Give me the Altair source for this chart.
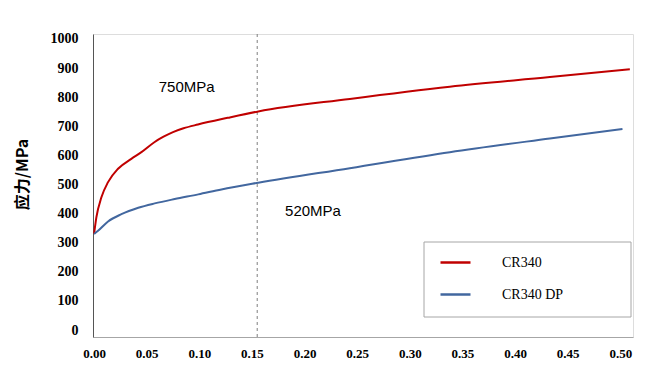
import altair as alt
import pandas as pd

# ---- data ----
red_x = [0.0, 0.0022, 0.007, 0.0133, 0.0228, 0.0354, 0.045, 0.0576, 0.066, 0.075, 0.085, 0.0987, 0.127, 0.156, 0.243, 0.338, 0.433, 0.509]
red_y = [330, 387, 456, 508, 554, 588, 611, 646, 664, 680, 693, 706, 729, 751, 794, 836, 869, 896]

blue_x = [0.0, 0.0038, 0.0133, 0.026, 0.042, 0.0576, 0.0766, 0.099, 0.121, 0.156, 0.243, 0.338, 0.433, 0.502]
blue_y = [330, 341, 373, 398, 420, 435, 450, 466, 483, 506, 556, 611, 658, 691]

series_names = ["CR340", "CR340 DP"]
series_colors = ["#c00000", "#42679f"]

x_ticks = [0.0, 0.05, 0.10, 0.15, 0.20, 0.25, 0.30, 0.35, 0.40, 0.45, 0.50]
y_ticks = [0, 100, 200, 300, 400, 500, 600, 700, 800, 900, 1000]

marker_x = [0.155]
ann_text = ["750MPa", "520MPa"]
ann_x = [0.088, 0.208]
ann_y = [834, 410]

# ---- tables ----
rows = []
for i, (x, y) in enumerate(zip(red_x, red_y)):
    rows.append({"strain": x, "stress": y, "series": series_names[0], "order": i})
for i, (x, y) in enumerate(zip(blue_x, blue_y)):
    rows.append({"strain": x, "stress": y, "series": series_names[1], "order": i})
df = pd.DataFrame(rows)
df_rule = pd.DataFrame({"strain": marker_x})
df_ann = pd.DataFrame({"strain": ann_x, "stress": ann_y, "label": ann_text})

xscale = alt.Scale(domain=[-0.001, 0.512], nice=False, zero=False)
yscale = alt.Scale(domain=[-24, 1017], nice=False, zero=False)

x_axis = alt.Axis(values=x_ticks, format=".2f", title=None, grid=False, ticks=False,
                  domainColor="#a6a6a6", domainWidth=1,
                  labelFont="Liberation Serif", labelFontWeight="bold", labelFontSize=13,
                  labelColor="#000000", labelPadding=10, labelFlush=False,
                  labelOverlap=False)
y_axis = alt.Axis(values=y_ticks, format="d", title="应力/MPa", grid=False, ticks=False,
                  domainColor="#555555", domainWidth=1,
                  labelFont="Liberation Serif", labelFontWeight="bold", labelFontSize=14,
                  labelColor="#000000", labelPadding=15, labelFlush=False,
                  labelOverlap=False,
                  titleFont="Noto Sans CJK SC", titleFontWeight="bold", titleFontSize=16,
                  titleColor="#000000", titleAngle=-90, titleX=-71, titleY=140,
                  titleAlign="center", titleBaseline="middle")

lines = alt.Chart(df).mark_line(strokeWidth=2, interpolate="monotone").encode(
    x=alt.X("strain:Q", scale=xscale, axis=x_axis),
    y=alt.Y("stress:Q", scale=yscale, axis=y_axis),
    color=alt.Color("series:N",
                    scale=alt.Scale(domain=series_names, range=series_colors),
                    legend=alt.Legend(title=None, orient="none", legendX=346, legendY=212,
                                      symbolType="stroke", symbolSize=900, symbolStrokeWidth=2.5,
                                      symbolOffset=0, labelOffset=30,
                                      labelFont="Liberation Serif", labelFontSize=14,
                                      labelColor="#000000",
                                      rowPadding=8, padding=0)),
    order="order:Q",
)

# legend frame (decoration behind the legend entries)
frame = alt.Chart(pd.DataFrame({"k": [0]})).mark_rect(
    fill="#ffffff", stroke="#a6a6a6", strokeWidth=1
).encode(x=alt.value(331), x2=alt.value(538), y=alt.value(208), y2=alt.value(283))

rule = alt.Chart(df_rule).mark_rule(color="#7f7f7f", strokeDash=[3, 3], strokeWidth=1).encode(
    x=alt.X("strain:Q", scale=xscale, axis=x_axis)
)

ann = alt.Chart(df_ann).mark_text(font="Liberation Sans", fontSize=15, color="#000000",
                                  align="center", baseline="middle").encode(
    x=alt.X("strain:Q", scale=xscale, axis=x_axis),
    y=alt.Y("stress:Q", scale=yscale, axis=y_axis),
    text="label:N",
)

chart = alt.layer(rule, lines, ann, frame).properties(
    width=540, height=303,
    autosize=alt.AutoSizeParams(type="none"),
    padding={"left": 85, "top": 26, "right": 6, "bottom": 29},
).configure_view(stroke=None).configure(background="#ffffff")

chart.save("out.html", embed_options={"renderer": "svg", "actions": False})
